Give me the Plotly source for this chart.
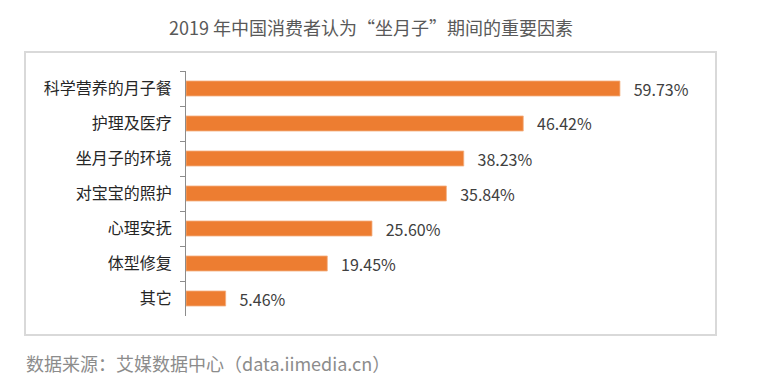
import plotly.graph_objects as go

categories = ["科学营养的月子餐", "护理及医疗", "坐月子的环境", "对宝宝的照护", "心理安抚", "体型修复", "其它"]
values = [59.73, 46.42, 38.23, 35.84, 25.60, 19.45, 5.46]
value_labels = ["59.73%", "46.42%", "38.23%", "35.84%", "25.60%", "19.45%", "5.46%"]

title_text = "2019 年中国消费者认为“坐月子”期间的重要因素"
source_text = "数据来源：艾媒数据中心（data.iimedia.cn）"

FONT = "Noto Sans CJK SC"

# page body has an 8px margin; work in page pixel coordinates and shift
OFF = 8
W, H = 779 - OFF, 389 - OFF
L, R, T, B = 186 - OFF, 779 - 716, 71 - OFF, 389 - 316

fig = go.Figure(go.Bar(
    y=categories,
    x=values,
    orientation="h",
    text=["   " + t for t in value_labels],
    textposition="outside",
    constraintext="none",
    textfont=dict(family=FONT, size=16, color="#404040"),
    cliponaxis=False,
    marker=dict(color="#ED7D31", line=dict(color="#F4B183", width=0.8)),
    hoverinfo="skip",
))

fig.update_layout(
    width=W, height=H,
    margin=dict(l=L, r=R, t=T, b=B, pad=0),
    paper_bgcolor="white",
    plot_bgcolor="white",
    showlegend=False,
    bargap=0.57,
    font=dict(family=FONT, color="#262626"),
)

fig.update_xaxes(
    range=[0, 72.95],
    visible=False,
    showgrid=False,
    zeroline=False,
)
fig.update_yaxes(
    autorange="reversed",
    showline=True,
    linecolor="#8C8C8C",
    linewidth=1,
    ticks="outside",
    tickson="boundaries",
    ticklen=5,
    tickcolor="#8C8C8C",
    tickfont=dict(family=FONT, size=16, color="#262626"),
    ticklabelstandoff=10,
    showgrid=False,
    zeroline=False,
)

pw = W - L - R
ph = H - T - B
def px_x(x):
    return (x - OFF - L) / pw
def px_y(y):
    return 1 - (y - OFF - T) / ph

# frame box around chart region
fig.add_shape(
    type="rect", xref="paper", yref="paper",
    x0=px_x(25), x1=px_x(716), y0=px_y(335), y1=px_y(52),
    line=dict(color="#D9D9D9", width=2), fillcolor="rgba(0,0,0,0)", layer="below",
)

fig.add_annotation(
    text=title_text, xref="paper", yref="paper",
    x=px_x(371), y=px_y(27), xanchor="center", yanchor="middle",
    showarrow=False, font=dict(family=FONT, size=18, color="#595959"),
)
fig.add_annotation(
    text=source_text, xref="paper", yref="paper",
    x=px_x(24), y=px_y(363), xanchor="left", yanchor="middle",
    showarrow=False, font=dict(family=FONT, size=18, color="#8C8C8C"),
)

fig.write_html("out.html")
